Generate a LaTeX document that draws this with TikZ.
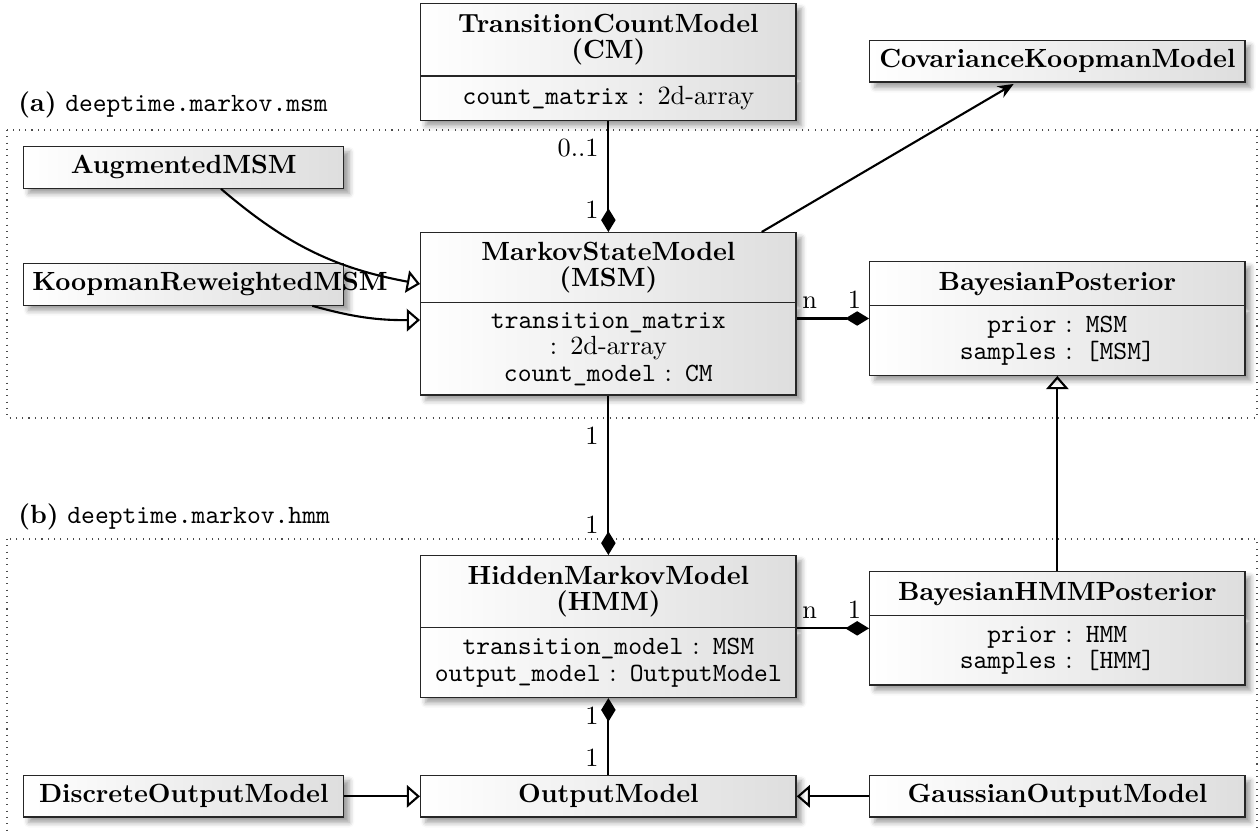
\documentclass[tikz,border=0pt]{standalone}
\usepackage{amsmath}
\usepackage{tikz}
\usetikzlibrary{positioning}
\usetikzlibrary{calc}
\usetikzlibrary{arrows.meta}
\usetikzlibrary{shapes.multipart}
\usetikzlibrary{shadows.blur}

\begin{document}
\begin{tikzpicture}[
		x=0.38pt, y=-0.38pt,
		umlbox/.style = {
			shape=rectangle,
			draw=black!85,
			line width=0.5pt,
			align=center,
			anchor=north west,
			font=\fontsize{10}{10.1}\selectfont,
			inner xsep=3.33pt,
			inner ysep=3.7pt,
			text width=136pt,
			left color=white,
			right color=black!13,
			blur shadow={shadow xshift=2pt, shadow yshift=-2pt, shadow blur radius=2pt}
		},
		umlclass/.style = {
			umlbox,
			rectangle split,
			rectangle split parts=2
		},
		umlsmall/.style = {
			umlbox,
			text width=115pt,
			inner ysep=3.4pt
		},
		comp/.style = {
			draw,
			line width=0.8pt,
			-{Diamond[length=9pt, width=5.5pt]}
		},
		inh/.style = {
			draw,
			line width=0.8pt,
			-{Triangle[open, length=5pt, width=8.5pt]}
		},
		assoc/.style = {
			draw,
			line width=0.8pt,
			-{Stealth[length=6pt, width=5pt, inset=2pt]}
		},
		mult/.style = {
			font=\fontsize{10}{10.1}\selectfont
		},
		pkgframe/.style = {
			draw=black!70,
			dotted,
			line width=0.4pt
		}
		]
		\useasboundingbox (0,0) rectangle (1258,831);

		\draw[pkgframe] (7,130) rectangle (1257,418);
		\draw[pkgframe] (7,539) rectangle (1257,832);
		\node[anchor=west] (pkga) at (9,105) {\textbf{(a)} \texttt{deeptime.markov.msm}};
		\node[anchor=west] (pkgb) at (9,517) {\textbf{(b)} \texttt{deeptime.markov.hmm}};

		\node[umlclass] (cm) at (420,3) {\textbf{TransitionCountModel} \\ \textbf{(CM)}
			\nodepart{two} \texttt{count\_matrix} : 2d-array};
		\node[umlsmall, text width=136pt] (ckm) at (869,40) {\textbf{CovarianceKoopmanModel}};
		\node[umlsmall] (augmsm) at (23,146) {\textbf{AugmentedMSM}};
		\node[umlsmall] (krmsm) at (23,263) {\textbf{KoopmanReweightedMSM}};
		\node[umlclass, inner ysep=3.3pt] (msm) at (420,232) {\textbf{MarkovStateModel} \\ \textbf{(MSM)}
			\nodepart{two} \texttt{transition\_matrix} \\ : 2d-array \\ \texttt{count\_model} : \texttt{CM}};
		\node[umlclass] (bpost) at (869,261) {\textbf{BayesianPosterior}
			\nodepart{two} \texttt{prior} : \texttt{MSM} \\ \texttt{samples} : \texttt{[MSM]}};

		\node[umlclass] (hmm) at (420,555) {\textbf{HiddenMarkovModel} \\ \textbf{(HMM)}
			\nodepart{two} \texttt{transition\_model} : \texttt{MSM} \\ \texttt{output\_model} : \texttt{OutputModel}};
		\node[umlclass] (bhmmpost) at (869,571) {\textbf{BayesianHMMPosterior}
			\nodepart{two} \texttt{prior} : \texttt{HMM} \\ \texttt{samples} : \texttt{[HMM]}};
		\node[umlsmall, text width=136pt] (outm) at (420,775) {\textbf{OutputModel}};
		\node[umlsmall] (discout) at (23,775) {\textbf{DiscreteOutputModel}};
		\node[umlsmall, text width=136pt] (gaussout) at (869,775) {\textbf{GaussianOutputModel}};

		\draw[comp] (cm.south) -- (msm.north)
			node[mult, left, pos=0.24] {0..1}
			node[mult, left, pos=0.8] {1};
		\draw[assoc, shorten >=1pt] ($(msm.north west)!0.907!(msm.north east)$) -- ($(ckm.south west)!0.39!(ckm.south east)$);
		\draw[inh] ($(augmsm.south west)!0.616!(augmsm.south east)$) to[bend right=15] (msm.west |- 0,284);
		\draw[inh] ($(krmsm.south west)!0.9!(krmsm.south east)$) to[bend right=8] (msm.west |- 0,320);
		\draw[comp] (msm.east |- bpost.west) -- (bpost.west)
			node[mult, above, pos=0.18] {n}
			node[mult, above, pos=0.8] {1};

		\draw[comp] (msm.south) -- (hmm.north)
			node[mult, left, pos=0.25] {1}
			node[mult, left, pos=0.81] {1};
		\draw[inh] (bhmmpost.north) -- (bpost.south);
		\draw[comp] (hmm.east |- bhmmpost.west) -- (bhmmpost.west)
			node[mult, above, pos=0.18] {n}
			node[mult, above, pos=0.8] {1};
		\draw[comp] (outm.north) -- (hmm.south)
			node[mult, left, pos=0.22] {1}
			node[mult, left, pos=0.77] {1};
		\draw[inh] (discout.east) -- (outm.west);
		\draw[inh] (gaussout.west) -- (outm.east);
	\end{tikzpicture}
\end{document}
